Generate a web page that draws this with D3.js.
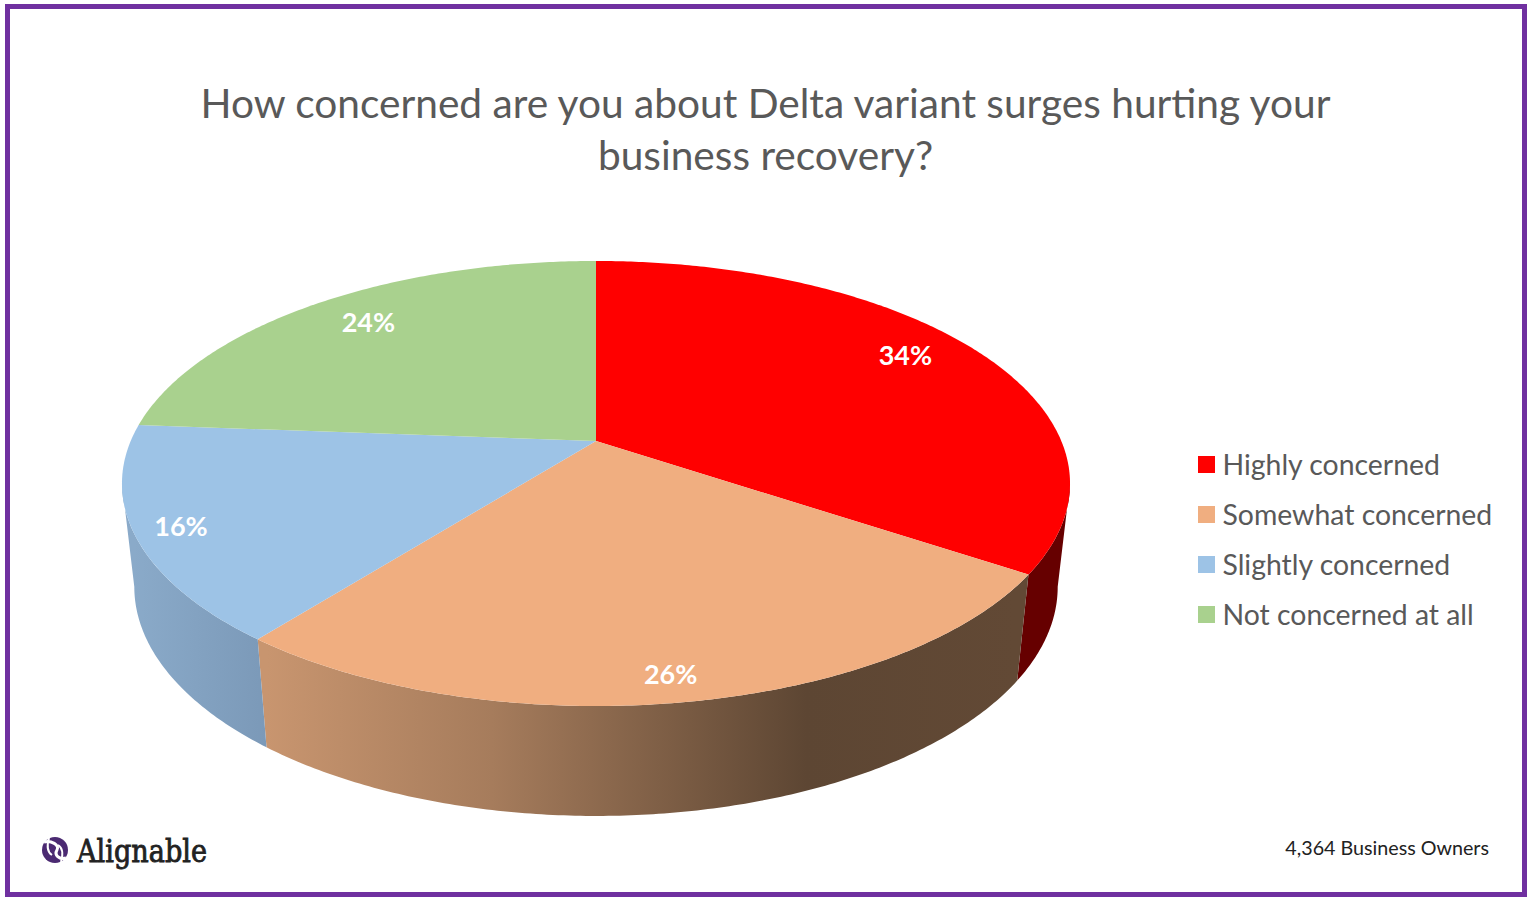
<!DOCTYPE html>
<html>
<head>
<meta charset="utf-8">
<style>
  html, body { margin: 0; padding: 0; background: #fff; }
  svg { display: block; }
</style>
</head>
<body>
<svg id="chart" width="1532" height="910"></svg>
<script src="https://cdn.jsdelivr.net/npm/d3@7"></script>
<script>
var categories = ['Highly concerned', 'Somewhat concerned', 'Slightly concerned', 'Not concerned at all'];
var shares = [34.4, 26.2, 15.6, 23.8];
var topColors = ['#FF0000', '#F0AE80', '#9DC3E6', '#A9D18E'];
var titleLines = ['How concerned are you about Delta variant surges hurting your', 'business recovery?'];
var respondents = '4,364 Business Owners';

var svg = d3.select('#chart');
var font = 'Lato, "Open Sans", sans-serif';

svg.append('rect').attr('x', 7.5).attr('y', 6.5).attr('width', 1517).attr('height', 888)
  .attr('fill', '#fff').attr('stroke', '#7030A0').attr('stroke-width', 5);

svg.selectAll('text.title').data(titleLines).enter().append('text')
  .attr('class', 'title')
  .attr('x', 765.5)
  .attr('y', function(d, i) { return 118 + i * 52; })
  .attr('text-anchor', 'middle')
  .attr('font-family', font).attr('font-size', 40.65).attr('fill', '#595959')
  .text(function(d) { return d; });

// tilted disc: a perspective view of a circle, fitted to the rim in the picture
var tilt = 0.191;
function rim(a, ring) {
  var u = Math.sin(a), v = Math.cos(a), w = 1 + tilt * v;
  return [ring.x + ring.rx * u / w, ring.y - ring.ry * v / w];
}
var topRing = {x: 596, y: 441, rx: 465.3, ry: 214.4};
var lowRing = {x: 596, y: 543, rx: 453.2, ry: 220.8};

var slices = d3.pie().sort(null).value(function(d) { return d; })(shares);
var lineGen = d3.line();

function arcPoints(a0, a1, ring) {
  var steps = Math.max(2, Math.ceil((a1 - a0) / 0.01));
  return d3.range(steps + 1).map(function(i) {
    return rim(a0 + (a1 - a0) * i / steps, ring);
  });
}

// side wall, only the part of the rim that faces the viewer
var wallStart = Math.acos(-tilt), wallEnd = 2 * Math.PI - wallStart;
var wallShades = [
  [[0, '#660000'], [1, '#660000']],
  [[0, '#C8956F'], [0.3, '#A67C5C'], [0.72, '#5D4633'], [1, '#624935']],
  [[0, '#8AAAC9'], [1, '#7B99B8']],
  [[0, '#888888'], [1, '#888888']]
];
var wallRanges = [[267, 1016], [134, 267]];

var defs = svg.append('defs');
function wallGradient(id, x0, x1, stops) {
  var g = defs.append('linearGradient').attr('id', id)
    .attr('gradientUnits', 'userSpaceOnUse')
    .attr('x1', x0).attr('x2', x1).attr('y1', 0).attr('y2', 0);
  stops.forEach(function(s) {
    g.append('stop').attr('offset', s[0]).attr('stop-color', s[1]);
  });
}
wallGradient('wall1', wallRanges[0][0], wallRanges[0][1], wallShades[1]);
wallGradient('wall2', wallRanges[1][0], wallRanges[1][1], wallShades[2]);

slices.forEach(function(s, i) {
  var a0 = Math.max(s.startAngle, wallStart), a1 = Math.min(s.endAngle, wallEnd);
  if (a1 <= a0) return;
  var pts = arcPoints(a0, a1, topRing).concat(arcPoints(a0, a1, lowRing).reverse());
  svg.append('path')
    .attr('d', lineGen(pts) + 'Z')
    .attr('fill', (i === 1 || i === 2) ? 'url(#wall' + i + ')' : wallShades[i][0][1]);
});

// top face
svg.selectAll('path.top').data(slices).enter().append('path')
  .attr('class', 'top')
  .attr('d', function(s) {
    var pts = [[topRing.x, topRing.y]].concat(arcPoints(s.startAngle, s.endAngle, topRing));
    return lineGen(pts) + 'Z';
  })
  .attr('fill', function(s, i) { return topColors[i]; });

// labels sit on the disc, then get nudged to where the picture has them
var labelNudge = [[3, -10], [2, 23], [-13, 4], [0, -5]];
function labelPoint(s, i) {
  var a = (s.startAngle + s.endAngle) / 2, r = [0.8, 0.84, 0.88, 0.8][i];
  var u = r * Math.sin(a), v = r * Math.cos(a), w = 1 + tilt * v;
  return [topRing.x + topRing.rx * u / w + labelNudge[i][0], topRing.y - topRing.ry * v / w + labelNudge[i][1]];
}

svg.selectAll('text.pct').data(slices).enter().append('text')
  .attr('class', 'pct')
  .attr('x', function(s, i) { return labelPoint(s, i)[0]; })
  .attr('y', function(s, i) { return labelPoint(s, i)[1] + 9; })
  .attr('text-anchor', 'middle')
  .attr('font-family', font).attr('font-size', 27).attr('font-weight', 700).attr('fill', '#fff')
  .text(function(s) { return Math.round(s.data) + '%'; });

// legend
var legendY = d3.scalePoint().domain(categories).range([464, 614]);
var legend = svg.selectAll('g.legend').data(categories).enter().append('g')
  .attr('class', 'legend')
  .attr('transform', function(d) { return 'translate(1198,' + legendY(d) + ')'; });
legend.append('rect').attr('x', 0).attr('y', -8).attr('width', 17).attr('height', 17)
  .attr('fill', function(d, i) { return topColors[i]; });
legend.append('text').attr('x', 24.5).attr('y', 10.5)
  .attr('font-family', font).attr('font-size', 28.4).attr('fill', '#595959')
  .text(function(d) { return d; });

svg.append('text').attr('x', 1489).attr('y', 855).attr('text-anchor', 'end')
  .attr('font-family', font).attr('font-size', 19.7).attr('fill', '#222')
  .text(respondents);

// logo
var logo = svg.append('g').attr('transform', 'translate(55,850)');
logo.append('circle').attr('r', 13).attr('fill', '#4B2A72');
logo.append('path').attr('d', 'M-11,-8C-4,-10 5,-5 2,0C-1,5 4,10 11,8').attr('fill', 'none')
  .attr('stroke', '#fff').attr('stroke-width', 3);
logo.append('path').attr('d', 'M-6,-12C-8,-5 -8,2 -3,5M6,12C8,5 8,-2 3,-5').attr('fill', 'none')
  .attr('stroke', '#fff').attr('stroke-width', 2);
svg.append('text').attr('x', 77).attr('y', 862)
  .attr('font-family', '"DejaVu Serif", serif').attr('font-size', 32).attr('font-weight', 400)
  .attr('fill', '#222').attr('stroke', '#222').attr('stroke-width', 0.9)
  .attr('textLength', 130).attr('lengthAdjust', 'spacingAndGlyphs')
  .text('Alignable');
</script>
</body>
</html>
